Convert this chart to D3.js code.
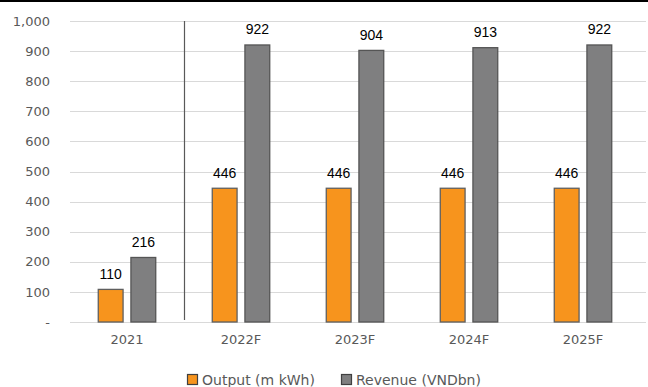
<!DOCTYPE html>
<html>
<head>
<meta charset="utf-8">
<script src="https://cdn.jsdelivr.net/npm/d3@7"></script>
<style>
  html, body { margin: 0; padding: 0; background: #fff; }
  svg { display: block; }
</style>
</head>
<body>
<svg id="chart" width="648" height="387"></svg>
<script>
const categories = ["2021", "2022F", "2023F", "2024F", "2025F"];
const seriesNames = ["Output (m kWh)", "Revenue (VNDbn)"];
const output = [110, 446, 446, 446, 446];
const revenue = [216, 922, 904, 913, 922];
const yTicks = [0, 100, 200, 300, 400, 500, 600, 700, 800, 900, 1000];

const colors = ["#F7941D", "#7F7F80"];
const strokes = ["#5f5f5f", "#555555"];
const axisFont = "DejaVu Sans, Verdana, sans-serif";

const svg = d3.select("#chart");
const W = 648;
const left = 70;

// top rule
svg.append("rect").attr("x", 0).attr("y", 0).attr("width", W).attr("height", 2).attr("fill", "#000");

const x = d3.scaleBand().domain(categories).range([left, 640]).paddingInner(0).paddingOuter(0);
const y = d3.scaleLinear().domain([0, 1000]).range([322, 21]);

// gridlines
svg.append("g")
  .selectAll("line")
  .data(yTicks)
  .join("line")
  .attr("x1", left).attr("x2", 646)
  .attr("y1", d => Math.round(y(d)) + 0.5).attr("y2", d => Math.round(y(d)) + 0.5)
  .attr("stroke", "#d9d9d9").attr("stroke-width", 1);

// y axis labels
const yAxis = d3.axisLeft(y).tickValues(yTicks).tickSize(0).tickPadding(0)
  .tickFormat(d => d === 0 ? "-" : d3.format(",")(d));
const gy = svg.append("g").attr("transform", "translate(50,0)").call(yAxis);
gy.select(".domain").remove();
gy.selectAll("text").attr("fill", "#595959").attr("font-family", axisFont).attr("font-size", 13);

// x axis labels
const xAxis = d3.axisBottom(x).tickSize(0).tickPadding(0);
const gx = svg.append("g").attr("transform", "translate(0,335)").call(xAxis);
gx.select(".domain").remove();
gx.selectAll("text").attr("fill", "#595959").attr("font-family", axisFont).attr("font-size", 13);

// separator between actual and forecast years
svg.append("line")
  .attr("x1", 184.5).attr("x2", 184.5)
  .attr("y1", y(1000)).attr("y2", 320)
  .attr("stroke", "#595959").attr("stroke-width", 1.2);

const xs = d3.scaleBand().domain([0, 1]).range([0, x.bandwidth()]).paddingInner(0.21).paddingOuter(0.85);

const rows = categories.map((c, i) => ({ c, vals: [output[i], revenue[i]] }));

const groups = svg.append("g").selectAll("g")
  .data(rows)
  .join("g")
  .attr("transform", d => `translate(${x(d.c)},0)`);

groups.selectAll("rect")
  .data(d => d.vals.map((v, k) => ({ v, k })))
  .join("rect")
  .attr("x", d => xs(d.k) + 0.5)
  .attr("y", d => y(d.v) + 0.5)
  .attr("width", xs.bandwidth() - 1)
  .attr("height", d => y(0) - y(d.v) - 0.5)
  .attr("fill", d => colors[d.k])
  .attr("stroke", d => strokes[d.k])
  .attr("stroke-width", 1.3);

groups.selectAll("text")
  .data(d => d.vals.map((v, k) => ({ v, k })))
  .join("text")
  .attr("x", d => xs(d.k) + xs.bandwidth() / 2)
  .attr("y", d => y(d.v) - 10)
  .attr("text-anchor", "middle")
  .attr("font-family", "Liberation Sans, Arial, sans-serif")
  .attr("font-size", 14)
  .attr("fill", "#000")
  .text(d => d.v);

// legend
const legend = svg.append("g").attr("transform", "translate(187,380)");
const lx = [0, 154];
seriesNames.forEach((name, k) => {
  const g = legend.append("g").attr("transform", `translate(${lx[k]},0)`);
  g.append("rect").attr("x", 0.5).attr("y", -5.5).attr("width", 10).attr("height", 10)
    .attr("fill", colors[k]).attr("stroke", "#404040").attr("stroke-width", 1.2);
  g.append("text").attr("x", 15).attr("y", 0).attr("dy", "0.35em")
    .attr("font-family", axisFont).attr("font-size", 14)
    .attr("fill", "#595959").text(name);
});
</script>
</body>
</html>
